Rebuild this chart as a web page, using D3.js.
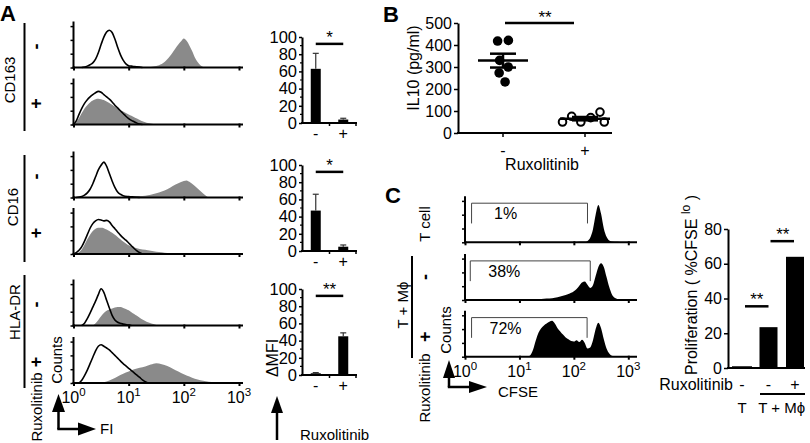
<!DOCTYPE html>
<html>
<head>
<meta charset="utf-8">
<script src="https://cdn.jsdelivr.net/npm/d3@7/dist/d3.min.js"></script>
<style>
html,body{margin:0;padding:0;background:#fff;}
svg{display:block;}
</style>
</head>
<body>
<svg id="fig" width="810" height="443"></svg>
<script>
// ======================= DATA =======================
const decadeTicks = [1, 10, 100, 1000];
const histCountTicks = [0, 30, 60, 90];
const treatment = ["-", "+"];
const markersA = ["CD163", "CD16", "HLA-DR"];

// Panel A flow histograms: [log10 fluorescence, counts (% of axis)]
const cd163MinusIso = [[0.15,0],[0.25,3],[0.3,6],[0.35,10],[0.4,18],[0.45,32],[0.5,50],[0.55,66],[0.6,77],[0.65,81],[0.7,76],[0.75,62],[0.8,44],[0.85,28],[0.9,16],[0.95,8],[1.0,4],[1.05,3],[1.1,2],[1.2,1],[1.25,0]];
const cd163MinusStain = [[1.35,0],[1.45,2],[1.55,5],[1.65,12],[1.75,25],[1.8,33],[1.85,42],[1.9,50],[1.95,57],[2.0,63],[2.05,58],[2.1,48],[2.15,36],[2.2,22],[2.25,12],[2.3,5],[2.35,1],[2.4,0]];
const cd163PlusIso = [[0,0],[0.05,8],[0.1,22],[0.15,35],[0.2,46],[0.25,54],[0.3,60],[0.35,65],[0.4,69],[0.45,72],[0.5,70],[0.55,65],[0.6,60],[0.65,55],[0.7,49],[0.75,42],[0.8,36],[0.85,30],[0.9,24],[0.95,18],[1.0,13],[1.05,9],[1.1,6],[1.15,3],[1.2,1],[1.25,0]];
const cd163PlusStain = [[0,0],[0.05,5],[0.1,14],[0.15,25],[0.2,35],[0.25,42],[0.3,48],[0.35,52],[0.4,55],[0.45,56],[0.5,55],[0.55,53],[0.6,50],[0.65,47],[0.7,43],[0.75,39],[0.8,35],[0.85,31],[0.9,28],[0.95,25],[1.0,22],[1.05,19],[1.1,16],[1.15,13],[1.2,10],[1.25,7],[1.3,5],[1.35,3],[1.4,2],[1.5,0]];
const cd16MinusIso = [[0.05,0],[0.15,2],[0.2,5],[0.25,10],[0.3,18],[0.35,30],[0.4,45],[0.45,60],[0.5,70],[0.55,77],[0.6,68],[0.65,52],[0.7,36],[0.75,22],[0.8,12],[0.85,7],[0.9,4],[1.0,2],[1.1,1],[1.2,0]];
const cd16MinusStain = [[0.9,0],[1.0,1],[1.1,2],[1.2,3],[1.3,4],[1.4,6],[1.5,9],[1.6,13],[1.7,18],[1.8,25],[1.9,31],[2.0,36],[2.05,37],[2.1,34],[2.2,25],[2.3,14],[2.4,4],[2.45,0]];
const cd16PlusIso = [[0,0],[0.05,3],[0.1,8],[0.15,16],[0.2,28],[0.25,42],[0.3,56],[0.35,66],[0.4,72],[0.45,75],[0.5,74],[0.55,72],[0.6,73],[0.65,70],[0.7,62],[0.75,55],[0.8,48],[0.85,41],[0.9,35],[0.95,30],[1.0,24],[1.05,18],[1.1,12],[1.15,7],[1.2,3],[1.25,0]];
const cd16PlusStain = [[0,0],[0.1,4],[0.15,10],[0.2,20],[0.25,32],[0.3,42],[0.35,50],[0.4,55],[0.45,57],[0.5,57],[0.55,56],[0.6,53],[0.65,50],[0.7,46],[0.75,42],[0.8,37],[0.85,32],[0.9,27],[0.95,23],[1.0,19],[1.1,14],[1.2,11],[1.3,9],[1.4,7],[1.5,5],[1.6,4],[1.7,2],[1.8,1],[1.85,0]];
const hladrMinusIso = [[0.15,0],[0.2,5],[0.25,15],[0.3,27],[0.35,40],[0.4,53],[0.45,67],[0.5,80],[0.55,72],[0.6,55],[0.65,38],[0.7,22],[0.75,12],[0.8,7],[0.85,5],[0.9,3],[1.0,1],[1.05,0]];
const hladrMinusStain = [[0.35,0],[0.4,5],[0.45,12],[0.5,20],[0.55,27],[0.6,32],[0.65,35],[0.7,37],[0.75,39],[0.8,40],[0.85,40],[0.9,38],[0.95,36],[1.0,33],[1.05,29],[1.1,25],[1.15,21],[1.2,17],[1.25,13],[1.3,10],[1.35,7],[1.4,5],[1.45,3],[1.5,1],[1.6,0]];
const hladrPlusIso = [[0.1,0],[0.15,6],[0.2,16],[0.25,28],[0.3,42],[0.35,56],[0.4,70],[0.45,80],[0.5,83],[0.55,80],[0.6,76],[0.65,72],[0.7,66],[0.75,60],[0.8,54],[0.85,48],[0.9,42],[0.95,37],[1.0,32],[1.05,27],[1.1,22],[1.15,17],[1.2,12],[1.25,7],[1.3,3],[1.35,0]];
const hladrPlusStain = [[0.5,0],[0.6,3],[0.7,8],[0.8,14],[0.9,20],[1.0,25],[1.1,30],[1.2,33],[1.3,36],[1.4,40],[1.5,43],[1.6,41],[1.7,37],[1.8,31],[1.9,25],[2.0,19],[2.1,14],[2.2,9],[2.3,6],[2.4,4],[2.5,2],[2.6,1],[2.7,0]];

// Panel A bar charts: ΔMFI mean and error
const dmfiTicks = [0, 20, 40, 60, 80, 100];
const cd163Dmfi = [63, 4];  const cd163Err = [18, 1.5];
const cd16Dmfi  = [47, 5];  const cd16Err  = [19, 2];
const hladrDmfi = [2, 45];  const hladrErr = [0.8, 4];
const sigA = ["*", "*", "**"];
const sigLevelA = 92;

// Panel B: IL10 (pg/ml) per donor
const il10Ticks = [0, 100, 200, 300, 400, 500];
const il10Minus = [418, 330, 232, 273, 421, 300];
const il10Plus  = [76, 50, 50, 50, 70, 95];
const sigB = "**";

// Panel C CFSE histograms: [log10 CFSE, counts (% of axis)]
const tcellHist = [[2.0,0],[2.1,1],[2.2,1],[2.25,3],[2.3,10],[2.35,28],[2.4,60],[2.45,81],[2.5,62],[2.55,30],[2.6,12],[2.65,4],[2.7,2],[2.8,1],[2.9,0]];
const tmMinusHist = [[0.7,0],[0.8,1],[1.0,1],[1.2,1],[1.4,2],[1.5,3],[1.6,4],[1.7,6],[1.8,9],[1.9,13],[2.0,19],[2.05,24],[2.1,31],[2.15,38],[2.2,40],[2.25,33],[2.3,26],[2.35,32],[2.4,52],[2.45,72],[2.5,80],[2.55,72],[2.6,50],[2.65,28],[2.7,12],[2.75,5],[2.8,2],[2.9,0]];
const tmPlusHist = [[1.15,0],[1.2,3],[1.25,15],[1.3,35],[1.35,52],[1.4,62],[1.45,68],[1.5,72],[1.55,76],[1.6,78],[1.65,72],[1.7,62],[1.75,55],[1.8,48],[1.85,42],[1.9,38],[1.95,34],[2.0,33],[2.05,36],[2.1,32],[2.15,37],[2.2,30],[2.25,18],[2.3,20],[2.35,35],[2.4,60],[2.45,74],[2.5,62],[2.55,38],[2.6,18],[2.65,7],[2.7,2],[2.75,0]];
const gateLow  = [1.32, 1.25, 1.32];
const gateHigh = [178, 200, 175];
const gatePct  = ["1%", "38%", "72%"];

// Panel C bars: proliferation (%CFSE lo)
const prolifCats = ["T", "TM-", "TM+"];
const prolifRux  = ["-", "-", "+"];
const prolifVals = [1, 23.5, 64];
const prolifTicks = [0, 20, 40, 60, 80];
const sigC = ["**", "**"];
const sigLevelC = [35.5, 73];

// ======================= DRAWING =======================
const FONT = '"Liberation Sans", Arial, Helvetica, sans-serif';
const svg = d3.select("#fig");
svg.append("rect").attr("width", 810).attr("height", 443).attr("fill", "#fff");

function ln(g, x1, y1, x2, y2, w, c) {
  return g.append("line").attr("x1", x1).attr("y1", y1).attr("x2", x2).attr("y2", y2)
    .attr("stroke", c || "#000").attr("stroke-width", w || 1);
}
function tx(g, x, y, s, size, anchor, weight) {
  return g.append("text").attr("x", x).attr("y", y).text(s)
    .attr("font-family", FONT).attr("font-size", size || 16)
    .attr("text-anchor", anchor || "start").attr("font-weight", weight || "normal").attr("fill", "#000");
}
function vtx(g, x, y, s, size, weight) {
  return g.append("text").attr("transform", `translate(${x},${y}) rotate(-90)`).text(s)
    .attr("font-family", FONT).attr("font-size", size || 16).attr("text-anchor", "middle")
    .attr("font-weight", weight || "normal").attr("fill", "#000");
}
function toPts(arr) { return arr.map(p => [Math.pow(10, p[0]), p[1]]); }

function histAxes(g, x, y, xEnd) {
  const base = y(0);
  const ax = g.append("g").attr("transform", `translate(0,${base})`)
    .call(d3.axisBottom(x).tickValues(decadeTicks).tickSize(3).tickSizeOuter(0).tickFormat(""));
  ax.select(".domain").remove();
  ax.selectAll(".tick line").attr("stroke-width", 2).attr("y1", -1);
  ln(g, x.range()[0] - 1, base, xEnd, base, 2);
  const ay = g.append("g").attr("transform", `translate(${x.range()[0]},0)`)
    .call(d3.axisLeft(y).tickValues(histCountTicks).tickSize(3).tickSizeOuter(0).tickFormat(""));
  ay.select(".domain").remove();
  ay.selectAll(".tick line").attr("stroke-width", 1.5);
  ln(g, x.range()[0], base + 1, x.range()[0], y(100), 2);
}
function decadeLabels(g, x, yb) {
  decadeTicks.forEach(d => {
    const t = g.append("text").attr("x", x(d)).attr("y", yb).attr("text-anchor", "middle")
      .attr("font-family", FONT).attr("font-size", 16).attr("fill", "#000");
    t.append("tspan").text("10");
    t.append("tspan").attr("dy", -7).attr("font-size", 11.5).text(Math.round(Math.log10(d)));
  });
}
function vArrow(g, vx, vTop, vBot, headW, headL) {
  ln(g, vx, vTop + headL - 1, vx, vBot, 2.5);
  g.append("path").attr("d", `M${vx - headW / 2},${vTop + headL}L${vx + headW / 2},${vTop + headL}L${vx},${vTop}Z`);
}
function arrow(g, vx, vTop, vBot, hEnd, headW, headL) {
  vArrow(g, vx, vTop, vBot, headW, headL);
  ln(g, vx - 1.2, vBot, hEnd - headL + 1, vBot, 2.5);
  g.append("path").attr("d", `M${hEnd - headL},${vBot - headW / 2}L${hEnd - headL},${vBot + headW / 2}L${hEnd},${vBot}Z`);
}

// ---------- Panel A histograms ----------
const gA = svg.append("g");
const xA = d3.scaleLog().domain([1, 1000]).range([73.5, 239]);
const histA = [
  [cd163MinusIso, cd163MinusStain], [cd163PlusIso, cd163PlusStain],
  [cd16MinusIso, cd16MinusStain], [cd16PlusIso, cd16PlusStain],
  [hladrMinusIso, hladrMinusStain], [hladrPlusIso, hladrPlusStain]
];
const baseA = [67.5, 124.5, 197.5, 254, 325.5, 383];
histA.forEach((h, i) => {
  const y = d3.scaleLinear().domain([0, 100]).range([baseA[i], baseA[i] - 46]);
  const area = d3.area().x(p => xA(p[0])).y0(y(0)).y1(p => y(p[1])).curve(d3.curveMonotoneX);
  const line = d3.line().x(p => xA(p[0])).y(p => y(p[1])).curve(d3.curveMonotoneX);
  gA.append("path").datum(toPts(h[1])).attr("d", area).attr("fill", "#8a8a8a");
  gA.append("path").datum(toPts(h[0])).attr("d", line).attr("fill", "none").attr("stroke", "#000").attr("stroke-width", 1.6);
  histAxes(gA, xA, y, 243);
});
decadeLabels(gA, xA, 403);
tx(gA, 0, 21, "A", 22, "start", "bold");

// left labels
const markerX = [15, 18, 20];
const markerY = [80, 207, 312];
const lineSpan = [[23, 131], [155, 262], [275, 388]];
markersA.forEach((m, i) => {
  vtx(gA, markerX[i], markerY[i], m, 15);
  ln(gA, 24.5, lineSpan[i][0], 24.5, lineSpan[i][1], 2);
  treatment.forEach((t, j) => vtx(gA, 42, baseA[2 * i + j] - 21, t, 18, "bold"));
});
vtx(gA, 42, 407, "Ruxolitinib", 15);
vtx(gA, 62, 360, "Counts", 15);
arrow(gA, 58.5, 394, 429, 96, 13, 18);
tx(gA, 100, 434, "FI", 15);

// ---------- Panel A bar charts ----------
const dmfiSets = [[cd163Dmfi, cd163Err], [cd16Dmfi, cd16Err], [hladrDmfi, hladrErr]];
const baseBarA = [123, 251, 375];
const xBA = d3.scalePoint().domain(treatment).range([302, 357]).padding(0.5);
dmfiSets.forEach((s, i) => {
  const y = d3.scaleLinear().domain([0, 100]).range([baseBarA[i], baseBarA[i] - 86]);
  const g = gA.append("g");
  d3.range(10, 100, 20).forEach(v => ln(g, 300, y(v), 302, y(v), 1.2));
  const ay = g.append("g").attr("transform", "translate(302,0)")
    .call(d3.axisLeft(y).tickValues(dmfiTicks).tickSize(3).tickSizeOuter(0).tickPadding(2));
  ay.attr("font-family", FONT).attr("font-size", 16.5);
  ay.select(".domain").attr("stroke-width", 2);
  ay.selectAll(".tick line").attr("stroke-width", 1.5);
  ay.selectAll("text").attr("fill", "#000");
  treatment.forEach((t, j) => {
    const cx = xBA(t);
    ln(g, cx, y(s[0][j]), cx, y(s[0][j] + s[1][j]), 1.2, "#333");
    ln(g, cx - 3, y(s[0][j] + s[1][j]), cx + 3, y(s[0][j] + s[1][j]), 1.2, "#333");
    g.append("rect").attr("x", cx - 5).attr("y", y(s[0][j])).attr("width", 10)
      .attr("height", y(0) - y(s[0][j])).attr("fill", "#000");
    tx(g, cx, y(0) + 16, t, 16, "middle");
  });
  ln(g, 301, y(0), 357, y(0), 2);
  ln(g, (xBA("-") + xBA("+")) / 2, y(0), (xBA("-") + xBA("+")) / 2, y(0) + 3, 1.5);
  ln(g, 356, y(0), 356, y(0) + 3, 1.5);
  ln(g, xBA("-"), y(sigLevelA), xBA("+"), y(sigLevelA), 2.5);
  tx(g, (xBA("-") + xBA("+")) / 2, y(sigLevelA) - 1, sigA[i], 17, "middle");
});
vtx(gA, 278, 358, "\u0394MFI", 16);
vArrow(gA, 277, 396, 440, 12, 17);
tx(gA, 300, 440, "Ruxolitinib", 15);

// ---------- Panel B ----------
const gB = svg.append("g");
tx(gB, 383, 22, "B", 22, "start", "bold");
const yB = d3.scaleLinear().domain([0, 500]).range([133, 23]);
const xB = d3.scalePoint().domain(treatment).range([503, 585]);
const ayB = gB.append("g").attr("transform", "translate(458,0)")
  .call(d3.axisLeft(yB).tickValues(il10Ticks).tickSize(4).tickSizeOuter(0).tickPadding(2));
ayB.attr("font-family", FONT).attr("font-size", 16);
ayB.select(".domain").attr("stroke-width", 2);
ayB.selectAll(".tick line").attr("stroke-width", 1.5);
ayB.selectAll("text").attr("fill", "#000");
ln(gB, 457, 133, 612, 133, 2);
treatment.forEach(t => { ln(gB, xB(t), 133, xB(t), 137, 1.5); tx(gB, xB(t), 156, t, 16, "middle"); });
tx(gB, 542, 170, "Ruxolitinib", 16, "middle");
vtx(gB, 419, 68, "IL10 (pg/ml)", 16);

function swarm(vals, cx, r) {
  const nodes = vals.map((v, i) => ({ v, x: cx + (i - (vals.length - 1) / 2) * 2, y: yB(v), fy: yB(v) }));
  const sim = d3.forceSimulation(nodes).force("x", d3.forceX(cx).strength(0.06))
    .force("c", d3.forceCollide(r + 0.6).iterations(3)).stop();
  for (let k = 0; k < 300; k++) sim.tick();
  return nodes;
}
[[il10Minus, "-"], [il10Plus, "+"]].forEach(([vals, t]) => {
  const cx = xB(t);
  const r = 4.8;
  const nodes = swarm(vals, cx, r);
  gB.selectAll(null).data(nodes).enter().append("circle")
    .attr("cx", d => d.x).attr("cy", d => d.fy).attr("r", t === "-" ? r : r - 1)
    .attr("fill", t === "-" ? "#000" : "#fff").attr("stroke", "#000").attr("stroke-width", t === "-" ? 0 : 2);
  const m = d3.mean(vals), se = d3.deviation(vals) / Math.sqrt(vals.length);
  ln(gB, cx - 25, yB(m), cx + 25, yB(m), 2.5);
  ln(gB, cx - 13, yB(m + se), cx + 13, yB(m + se), 2.5);
  ln(gB, cx - 13, yB(m - se), cx + 13, yB(m - se), 2.5);
  ln(gB, cx, yB(m + se), cx, yB(m - se), 2.5);
});
ln(gB, xB("-") + 2, yB(500), xB("+") - 11, yB(500), 2.5);
tx(gB, (xB("-") + xB("+")) / 2 + 1, 23, sigB, 17, "middle");

// ---------- Panel C histograms ----------
const gC = svg.append("g");
tx(gC, 385, 203, "C", 22, "start", "bold");
const xC = d3.scaleLog().domain([1, 1000]).range([465, 628.3]);
const histC = [tcellHist, tmMinusHist, tmPlusHist];
const baseC = [242.3, 300, 356.7];
histC.forEach((h, i) => {
  const y = d3.scaleLinear().domain([0, 100]).range([baseC[i], baseC[i] - 46]);
  const area = d3.area().x(p => xC(p[0])).y0(y(0)).y1(p => y(p[1])).curve(d3.curveMonotoneX);
  gC.append("path").datum(toPts(h)).attr("d", area).attr("fill", "#000");
  histAxes(gC, xC, y, 637);
  const gx1 = xC(gateLow[i]), gx2 = xC(gateHigh[i]);
  gC.append("path").attr("d", `M${gx1},${y(41)}V${y(85)}H${gx2}V${y(41)}`)
    .attr("fill", "none").attr("stroke", "#444").attr("stroke-width", 1);
  tx(gC, gx1 + 34, y(50), gatePct[i], 16, "middle");
});
decadeLabels(gC, xC, 377);
vtx(gC, 430, 224, "T cell", 15);
vtx(gC, 408, 305, "T + M\u03D5", 15);
ln(gC, 412, 256, 412, 358, 2);
vtx(gC, 431, baseC[1] - 23, "-", 18, "bold");
vtx(gC, 431, baseC[2] - 20, "+", 18, "bold");
vtx(gC, 430, 388, "Ruxolitinib", 15);
vtx(gC, 451, 330, "Counts", 15);
arrow(gC, 449, 360, 387, 487, 12, 18);
tx(gC, 498, 397, "CFSE", 15);

// ---------- Panel C bars ----------
const gD = svg.append("g");
const yD = d3.scaleLinear().domain([0, 80]).range([368, 229]);
const xD = d3.scalePoint().domain(prolifCats).range([742, 795]);
const ayD = gD.append("g").attr("transform", "translate(728,0)")
  .call(d3.axisLeft(yD).tickValues(prolifTicks).tickSize(4).tickSizeOuter(0).tickPadding(2));
ayD.attr("font-family", FONT).attr("font-size", 16);
ayD.select(".domain").attr("stroke-width", 2);
ayD.selectAll(".tick line").attr("stroke-width", 1.5);
ayD.selectAll("text").attr("fill", "#000");
prolifCats.forEach((c, i) => {
  const w = i === 0 ? 20 : 18;
  gD.append("rect").attr("x", xD(c) - w / 2).attr("y", yD(prolifVals[i])).attr("width", w)
    .attr("height", yD(0) - yD(prolifVals[i])).attr("fill", "#000");
  tx(gD, xD(c), 390, prolifRux[i], 16, "middle");
});
ln(gD, 727, 368, 805, 368, 2);
ln(gD, xD("T") + 3, yD(sigLevelC[0]), xD("TM-"), yD(sigLevelC[0]), 2.5);
tx(gD, (xD("T") + xD("TM-")) / 2 + 1.5, yD(sigLevelC[0]) - 1, sigC[0], 17, "middle");
ln(gD, xD("TM-") + 2, yD(sigLevelC[1]), xD("TM+") - 1, yD(sigLevelC[1]), 2.5);
tx(gD, (xD("TM-") + xD("TM+")) / 2 + 1, yD(sigLevelC[1]) - 1, sigC[1], 17, "middle");
tx(gD, 733, 390, "Ruxolitinib", 16, "end");
ln(gD, 760, 394, 805, 394, 2);
tx(gD, xD("T"), 413, "T", 15, "middle");
tx(gD, (xD("TM-") + xD("TM+")) / 2, 413, "T + M\u03D5", 15, "middle");
const yl = vtx(gD, 697, 285, "", 16);
yl.append("tspan").text("Proliferation ( %CFSE ");
yl.append("tspan").attr("dy", -7).attr("font-size", 12).text("lo");
yl.append("tspan").attr("dy", 7).text(" )");
</script>
</body>
</html>
